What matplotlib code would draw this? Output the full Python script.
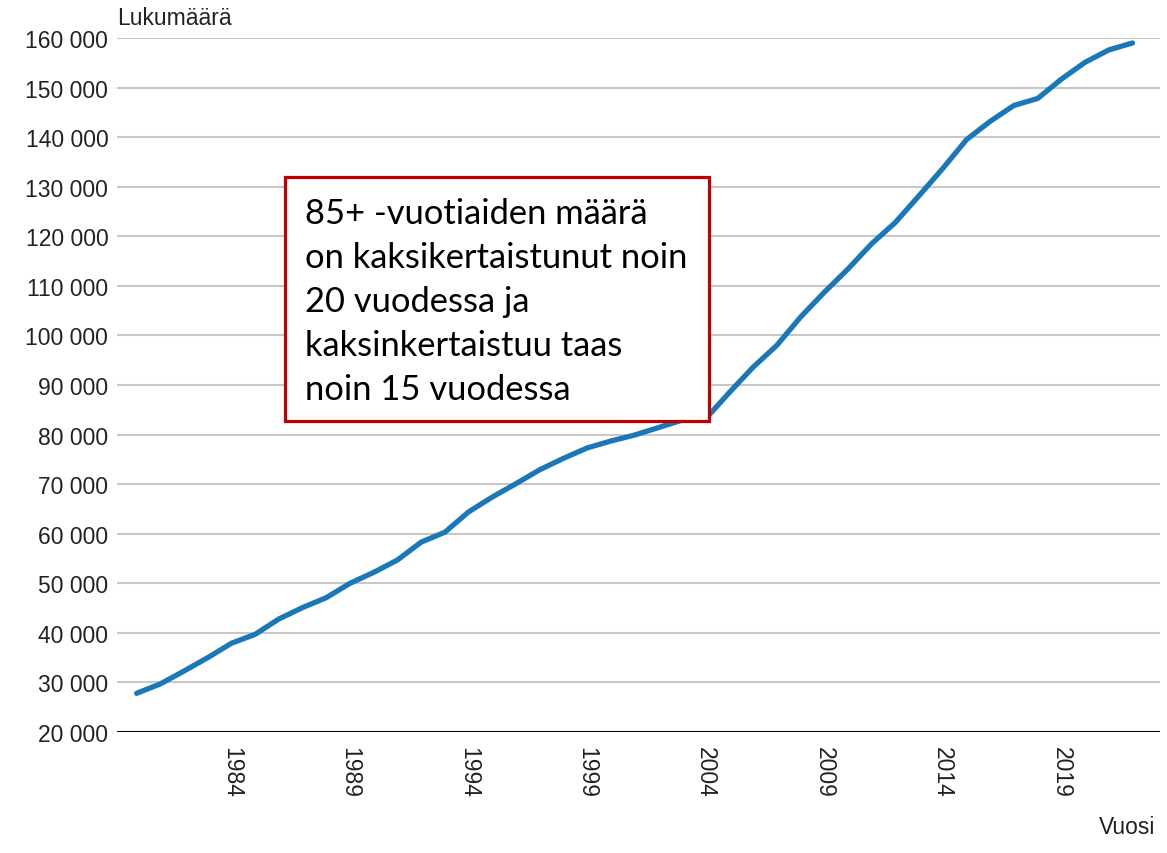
import numpy as np
import matplotlib
matplotlib.use('Agg')
import matplotlib.pyplot as plt
from matplotlib.patches import Rectangle
from matplotlib.ticker import FuncFormatter

plt.rcParams['font.family'] = ['Liberation Sans', 'DejaVu Sans']

years = list(range(1980, 2023))
counts = [27800, 29700, 32300, 35000, 37900, 39700, 42800, 45100, 47100, 50000,
          52200, 54700, 58300, 60300, 64400, 67400, 70100, 72900, 75200, 77300,
          78700, 79900, 81400, 82900, 83200, 88500, 93600, 98000, 103700, 108700,
          113400, 118500, 122800, 128200, 133700, 139500, 143200, 146400, 147800, 151700,
          155100, 157600, 159000]
xticks = [1984, 1989, 1994, 1999, 2004, 2009, 2014, 2019]
yticks = list(range(20000, 160001, 10000))
note = "85+ -vuotiaiden määrä\non kaksikertaistunut noin\n20 vuodessa ja\nkaksinkertaistuu taas\nnoin 15 vuodessa"

fig = plt.figure(figsize=(11.67, 8.54), dpi=100)
ax = fig.add_axes([0.100, 0.1417, 0.894, 0.8126])

for y in yticks[1:]:
    ax.axhline(y, color='#c8c8c8', linewidth=1.5, zorder=1)
ax.axhline(20000, color='black', linewidth=1.5, zorder=2)
ax.plot(years, counts, color='#1a78b8', linewidth=3.8, solid_capstyle='round', zorder=3)

ax.set_xlim(1979.16, 2023.16)
ax.set_ylim(20000, 160000)
ax.set_yticks(yticks)
ax.yaxis.set_major_formatter(FuncFormatter(lambda v, p: f"{int(v):,}".replace(",", " ")))
ax.set_xticks(xticks)
ax.set_xticklabels([str(x) for x in xticks], rotation=270)
ax.tick_params(axis='both', length=0, labelsize=16.5, colors='#222222')
ax.tick_params(axis='y', pad=6)
ax.tick_params(axis='x', pad=10)
for s in ax.spines.values():
    s.set_visible(False)

fig.text(0.100, 0.965, "Lukumäärä", fontsize=16.5, color='#222222', ha='left', va='bottom')
fig.text(0.990, 0.017, "Vuosi", fontsize=16.5, color='#222222', ha='right', va='bottom')

fig.patches.append(Rectangle((0.2442, 0.5059), 0.3633, 0.2857, transform=fig.transFigure,
                             facecolor='white', edgecolor='#c00000', linewidth=2.3, zorder=5))
fig.text(0.2614, 0.768, note, fontsize=24.8, family=['Lato', 'DejaVu Sans'], color='black',
         ha='left', va='top', linespacing=1.46, zorder=6)

fig.savefig('out.png', dpi=100)
